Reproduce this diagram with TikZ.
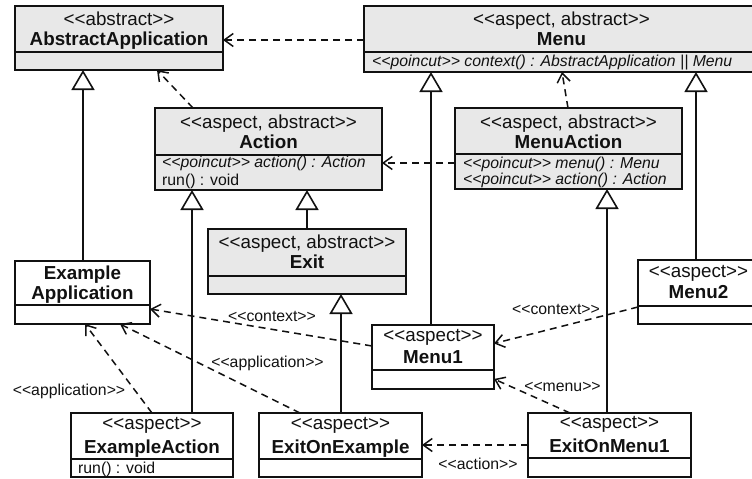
\documentclass[tikz,border=0pt]{standalone}
\usepackage{fontspec}
\setmainfont{Liberation Sans}
\usetikzlibrary{arrows.meta}

\definecolor{abstractfill}{RGB}{232,232,232}
\definecolor{ink}{RGB}{17,17,17}

% guillemet-like stereotype brackets, kept as two separate glyphs
\newcommand\stl{<\kern0pt<}
\newcommand\str{>\kern0pt>}

\tikzset{
  box/.style={draw=ink, line width=1.6pt, inner sep=0pt, outer sep=0pt, rectangle},
  abstractbox/.style={box, fill=abstractfill},
  concretebox/.style={box, fill=white},
  rule/.style={draw=ink, line width=1.6pt},
  stereo/.style={anchor=base, inner sep=0pt, text=ink,
    font=\fontsize{18.8}{20}\selectfont},
  title/.style={anchor=base, inner sep=0pt, text=ink,
    font=\fontsize{18.8}{20}\selectfont\bfseries},
  member/.style={anchor=base west, inner sep=0pt, text=ink,
    font=\fontsize{15.8}{17}\selectfont},
  pointcut/.style={member,
    font=\fontsize{15.8}{17}\selectfont\itshape},
  lbl/.style={inner sep=0pt, text=ink,
    font=\fontsize{15.8}{17}\selectfont},
  inherit/.style={draw=ink, line width=1.6pt,
    -{Triangle[length=20pt,width=23pt,fill=white]}},
  depend/.style={draw=ink, line width=1.5pt, dash pattern=on 7pt off 5pt,
    -{Straight Barb[length=9pt,width=13pt]}},
}

% class box: name, style, left, top, right, separator, bottom
\newcommand\classbox[7]{%
  \node[#2, anchor=north west,
        minimum width={(#5-#3)*1pt}, minimum height={(#7-#4)*1pt}] (#1) at (#3,#4) {};
  \draw[rule] (#1.west |- 0,#6) -- (#1.east |- 0,#6);
}

\begin{document}
\begin{tikzpicture}[x=1pt, y=-1pt]
\path[use as bounding box, clip] (0,0) rectangle (752,479);

% ---- class boxes ----
\classbox{aa}{abstractbox}{15}{6}{223}{52}{70}
\classbox{menu}{abstractbox}{364}{6}{759}{52}{72}
\classbox{action}{abstractbox}{155}{108}{382}{155}{190}
\classbox{menuaction}{abstractbox}{455}{108}{682}{154}{189}
\classbox{exit}{abstractbox}{208}{229}{406}{276}{294}
\classbox{exapp}{concretebox}{15}{261}{150}{305}{324}
\classbox{menutwo}{concretebox}{638}{260}{759}{306}{324}
\classbox{menuone}{concretebox}{372}{325}{494}{370}{389}
\classbox{exaction}{concretebox}{71}{413}{233}{459}{477}
\classbox{exitonex}{concretebox}{259}{413}{422}{459}{477}
\classbox{exitonmenu}{concretebox}{528}{413}{691}{458}{477}

% ---- class texts ----
\node[stereo] (aa-s) at (aa.north |- 0,25) {\stl abstract\str};
\node[title]  (aa-t) at (aa.north |- 0,45) {AbstractApplication};

\node[stereo] (menu-s) at (menu.north |- 0,25) {\stl aspect, abstract\str};
\node[title]  (menu-t) at (menu.north |- 0,45) {Menu};
\node[pointcut, xshift=8pt] (menu-m) at (menu.west |- 0,66)
  {\stl poincut\str{} context() : AbstractApplication || Menu};

\node[stereo] (action-s) at (action.north |- 0,128) {\stl aspect, abstract\str};
\node[title]  (action-t) at (action.north |- 0,148) {Action};
\node[pointcut, xshift=7pt] (action-m1) at (action.west |- 0,167) {\stl poincut\str{} action() : Action};
\node[member, xshift=7pt]   (action-m2) at (action.west |- 0,185.5) {run() : void};

\node[stereo] (menuaction-s) at (menuaction.north |- 0,128) {\stl aspect, abstract\str};
\node[title]  (menuaction-t) at (menuaction.north |- 0,148) {MenuAction};
\node[pointcut, xshift=8pt] (menuaction-m1) at (menuaction.west |- 0,168) {\stl poincut\str{} menu() : Menu};
\node[pointcut, xshift=8pt] (menuaction-m2) at (menuaction.west |- 0,184.5) {\stl poincut\str{} action() : Action};

\node[stereo] (exit-s) at (exit.north |- 0,248.5) {\stl aspect, abstract\str};
\node[title]  (exit-t) at (exit.north |- 0,268.5) {Exit};

\node[title] (exapp-t1) at (exapp.north |- 0,279) {Example};
\node[title] (exapp-t2) at (exapp.north |- 0,299) {Application};

\node[stereo] (menutwo-s) at (menutwo.north |- 0,277) {\stl aspect\str};
\node[title]  (menutwo-t) at (menutwo.north |- 0,298) {Menu2};

\node[stereo] (menuone-s) at (menuone.north |- 0,341) {\stl aspect\str};
\node[title]  (menuone-t) at (menuone.north |- 0,363.5) {Menu1};

\node[stereo] (exaction-s) at (exaction.north |- 0,429.5) {\stl aspect\str};
\node[title]  (exaction-t) at (exaction.north |- 0,453) {ExampleAction};
\node[member, xshift=7pt] (exaction-m) at (exaction.west |- 0,473) {run() : void};

\node[stereo] (exitonex-s) at (exitonex.north |- 0,429.5) {\stl aspect\str};
\node[title]  (exitonex-t) at (exitonex.north |- 0,453) {ExitOnExample};

\node[stereo] (exitonmenu-s) at (exitonmenu.north |- 0,428.5) {\stl aspect\str};
\node[title]  (exitonmenu-t) at (exitonmenu.north |- 0,452) {ExitOnMenu1};

% ---- generalisations ----
\draw[inherit] (exapp.north -| 83,0)      -- (aa.south -| 83,0);
\draw[inherit] (exaction.north -| 192,0)  -- (action.south -| 192,0);
\draw[inherit] (exit.north -| 307,0)      -- (action.south -| 307,0);
\draw[inherit] (exitonex.north -| 341,0)  -- (exit.south -| 341,0);
\draw[inherit] (menuone.north -| 431,0)   -- (menu.south -| 431,0);
\draw[inherit] (menutwo.north -| 696,0)   -- (menu.south -| 696,0);
\draw[inherit] (exitonmenu.north -| 607,0) -- (menuaction.south -| 607,0);

% ---- dependencies ----
\draw[depend] (menu.west |- 0,40)        -- (aa.east |- 0,40);
\draw[depend] (action.north -| 193,0)    -- (aa.south -| 157,0);
\draw[depend] (menuaction.north -| 568,0) -- (menu.south -| 562,0);
\draw[depend] (menuaction.west |- 0,163) -- (action.east |- 0,163);
\draw[depend] (menuone.west |- 0,346)    -- (exapp.east |- 0,309);
\draw[depend] (menutwo.west |- 0,307)    -- (menuone.east |- 0,343.5);
\draw[depend] (exaction.north -| 152,0)  -- (exapp.south -| 85,0);
\draw[depend] (exitonex.north -| 300,0)  -- (exapp.south -| 120,0);
\draw[depend] (exitonmenu.north -| 570,0) -- (menuone.east |- 0,379);
\draw[depend] (exitonmenu.west |- 0,445) -- (exitonex.east |- 0,445);

% ---- dependency labels ----
\node[lbl] (ctx-one) at (272,316.5) {\stl context\str};
\node[lbl] (ctx-two) at (556,309)   {\stl context\str};
\node[lbl] (app-one) at (69,391)    {\stl application\str};
\node[lbl] (app-two) at (267.5,363) {\stl application\str};
\node[lbl] (menu-l)  at (562.5,387) {\stl menu\str};
\node[lbl] (act-l)   at (478,464)   {\stl action\str};
\end{tikzpicture}
\end{document}
